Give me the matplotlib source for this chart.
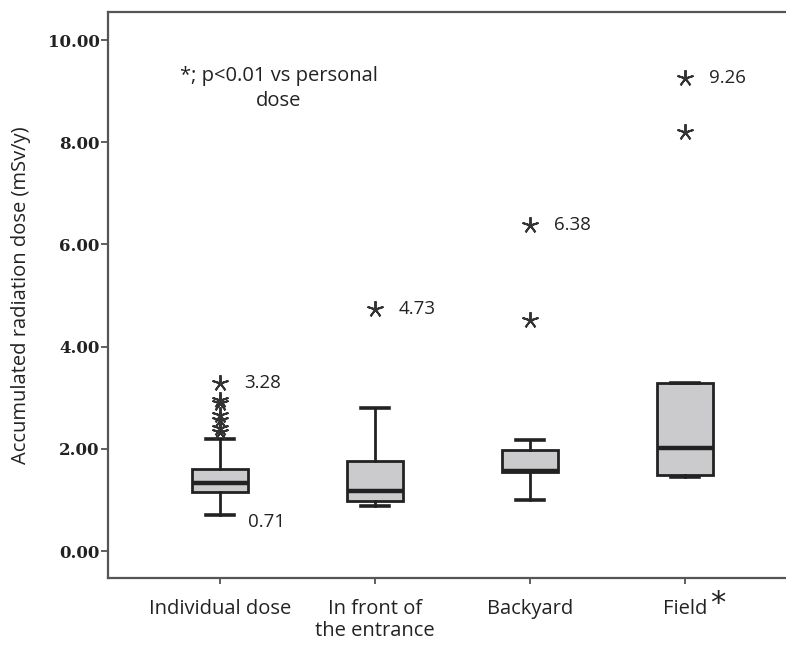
import numpy as np
import matplotlib
matplotlib.use("Agg")
import matplotlib.pyplot as plt

# box statistics (mSv/y)
groups = ["Individual dose", "In front of\nthe entrance", "Backyard", "Field"]
q1 = [1.15, 0.98, 1.55, 1.49]
med = [1.33, 1.17, 1.57, 2.02]
q3 = [1.60, 1.76, 1.98, 3.29]
whislo = [0.71, 0.88, 1.00, 1.45]
whishi = [2.19, 2.80, 2.17, 3.29]
outliers = [
    [3.28, 2.95, 2.90, 2.66, 2.56, 2.41, 2.33],
    [4.73],
    [6.38, 4.52],
    [9.26, 8.20],
]
max_labels = ["3.28", "4.73", "6.38", "9.26"]
max_values = [3.28, 4.73, 6.38, 9.26]

stats = []
for i in range(len(groups)):
    stats.append(dict(q1=q1[i], med=med[i], q3=q3[i], whislo=whislo[i],
                      whishi=whishi[i], fliers=outliers[i], label=groups[i]))

fig = plt.figure(figsize=(7.86, 6.5), dpi=100)
ax = fig.add_axes([108 / 786, 1 - 578 / 650, 1 - 108 / 786, (578 - 12) / 650])

pos = np.arange(1, len(groups) + 1)
ax.bxp(stats, positions=pos, widths=0.36, patch_artist=True,
       boxprops=dict(facecolor="#cbcbcd", edgecolor="#222222", linewidth=2.0),
       medianprops=dict(color="#222222", linewidth=3.2),
       whiskerprops=dict(color="#222222", linewidth=2.0),
       capprops=dict(color="#222222", linewidth=2.6),
       flierprops=dict(marker=(5, 2, 0), markersize=12, markeredgecolor="#333333",
                       markeredgewidth=1.4, linestyle="none"))

txt = dict(family="Open Sans", color="#222222")
for p, v, t in zip(pos, max_values, max_labels):
    ax.annotate(t, (p, v), xytext=(17, 0), textcoords="offset points",
                ha="left", va="center", fontsize=13.5, **txt)
ax.annotate("0.71", (pos[0], whislo[0]), xytext=(20, -5), textcoords="offset points",
            ha="left", va="center", fontsize=13.5, **txt)

ax.text(1.38, 9.05, "*; p<0.01 vs personal\ndose", ha="center", va="center",
        fontsize=14.5, linespacing=1.3, **txt)

ax.set_xlim(0.277, 4.65)
ax.set_ylim(-0.528, 10.548)
ax.set_yticks([0, 2, 4, 6, 8, 10])
ax.set_yticklabels(["%.2f" % v for v in [0, 2, 4, 6, 8, 10]],
                   family="DejaVu Serif", fontweight="bold", fontsize=12, color="#222222")
ax.set_xticks(pos)
ax.set_xticklabels(groups, fontsize=14.5, linespacing=1.15, **txt)
ax.text(4.16, -1.02, "*", fontsize=22, family="DejaVu Sans", color="#222222",
        ha="left", va="center")
ax.tick_params(axis="y", direction="out", length=5, width=1.2, pad=1, color="#444444")
ax.tick_params(axis="x", direction="out", length=4, width=1.2, pad=11, color="#444444")
ax.set_ylabel("Accumulated radiation dose (mSv/y)", fontsize=14.5, labelpad=12, **txt)

ax.spines["right"].set_visible(False)
for s in ["left", "top", "bottom"]:
    ax.spines[s].set_linewidth(1.6)
    ax.spines[s].set_color("#555555")

fig.savefig("out.png", dpi=100)
